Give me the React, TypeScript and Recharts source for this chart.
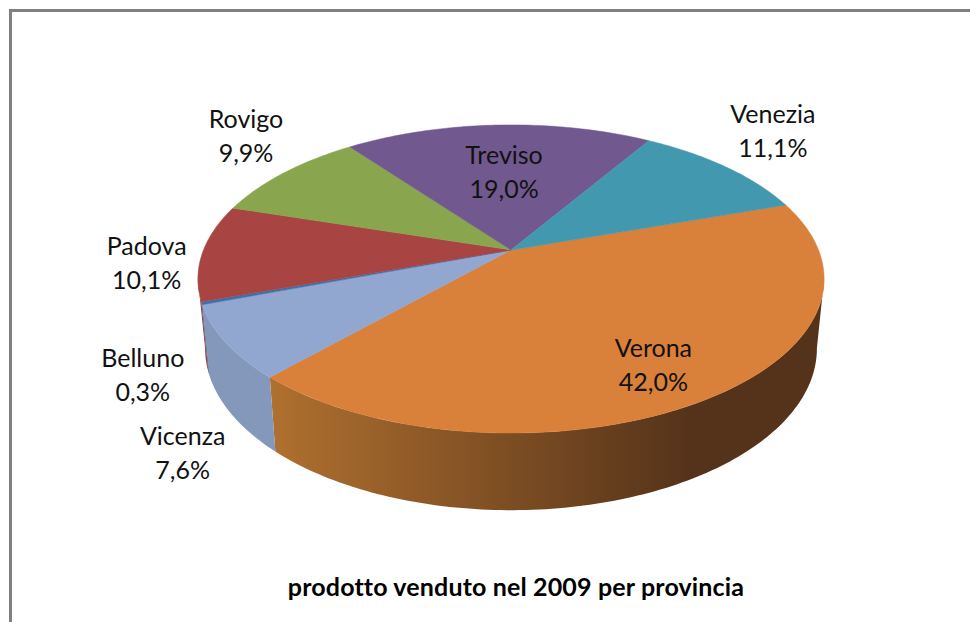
import React from 'react';
import { PieChart, Pie, Cell } from 'recharts';

const provinces = ['Verona', 'Vicenza', 'Belluno', 'Padova', 'Rovigo', 'Treviso', 'Venezia'];
const shares = [42.0, 7.6, 0.3, 10.1, 9.9, 19.0, 11.1];
const topColors = ['#d9803a', '#92a7cf', '#3f70a8', '#a84442', '#89a54e', '#71588f', '#4198af'];
const wallFrom = ['#b0702f', '#8398ba', '#2f5a8c', '#8f3a38', '#75904a', '#604b7c', '#37808f'];
const wallTo = ['#55331a', '#77899f', '#2f5a8c', '#8f3a38', '#75904a', '#604b7c', '#37808f'];
const labelNudge = [[-57, -33], [-43, 111], [-59, 72], [-56, 11], [-38, -37], [6, 47], [47, -36]];
const title = 'prodotto venduto nel 2009 per provincia';

const data = provinces.map((name, i) => ({ name, value: shares[i] }));

const TILT = 0.188;
const SCALE_X = 0.9825;
const SCALE_Y = 0.4748;
const DEPTH = 68;
const SHRINK_X = 0.977;
const SHRINK_Y = 1.05;
const SIL = 10.8; // angle of the silhouette (degrees from horizontal)

const RAD = Math.PI / 180;

function project(cx: number, cy: number, r: number, deg: number, rf = 1, lower = false) {
  const x = Math.cos(deg * RAD) * rf;
  const y = -Math.sin(deg * RAD) * rf;
  const d = 1 - TILT * y;
  let X = (r * SCALE_X * x) / d;
  let Y = (r * SCALE_Y * y) / d;
  if (lower) {
    X *= SHRINK_X;
    Y = Y * SHRINK_Y + DEPTH;
  }
  return [cx + X, cy + Y];
}

function arcPoints(cx: number, cy: number, r: number, a0: number, a1: number, lower = false) {
  const n = Math.max(2, Math.ceil(Math.abs(a1 - a0) / 1));
  const pts: number[][] = [];
  for (let i = 0; i <= n; i++) pts.push(project(cx, cy, r, a0 + ((a1 - a0) * i) / n, 1, lower));
  return pts;
}

const toPath = (pts: number[][]) =>
  pts.map((p, i) => `${i ? 'L' : 'M'}${p[0].toFixed(2)},${p[1].toFixed(2)}`).join(' ');

function norm(a: number) {
  // bring angle into (-270, 90]
  let v = a;
  while (v > 90) v -= 360;
  while (v <= -270) v += 360;
  return v;
}

function Slice3D(props: any) {
  const { cx, cy, outerRadius, startAngle, endAngle, index, fill } = props;
  const i = typeof index === 'number' ? index : provinces.indexOf(props.name);
  const top = [[cx, cy], ...arcPoints(cx, cy, outerRadius, startAngle, endAngle)];
  const hiA = Math.min(norm(startAngle), -SIL);
  const loA = Math.max(norm(startAngle) - (startAngle - endAngle), -180 + SIL);
  const hasWall = hiA > loA;
  const gid = `wall-${i}`;
  return (
    <g>
      {hasWall && (
        <>
          <defs>
            <linearGradient id={gid} gradientUnits="userSpaceOnUse" x1={270} x2={690} y1={0} y2={0}>
              <stop offset="0" stopColor={wallFrom[i]} />
              <stop offset="1" stopColor={wallTo[i]} />
            </linearGradient>
          </defs>
          <path
            d={toPath([
              ...arcPoints(cx, cy, outerRadius, hiA, loA),
              ...arcPoints(cx, cy, outerRadius, loA, hiA, true),
            ]) + ' Z'}
            fill={`url(#${gid})`}
          />
        </>
      )}
      <path d={toPath(top) + ' Z'} fill={fill} stroke={fill} strokeWidth={0.5} />
    </g>
  );
}

function SliceLabel(props: any) {
  const { cx, cy, outerRadius, midAngle, index } = props;
  const [px, py] = project(cx, cy, outerRadius, midAngle);
  const x = px + labelNudge[index][0];
  const y = py + labelNudge[index][1];
  return (
    <text x={x} y={y} textAnchor="middle" fontFamily="Lato" fontSize={25} fill="#111">
      <tspan x={x} dy={-8}>{provinces[index]}</tspan>
      <tspan x={x} dy={34}>{shares[index].toFixed(1).replace('.', ',')}%</tspan>
    </text>
  );
}

export default function App() {
  return (
    <div style={{ position: 'absolute', left: 0, top: 0, width: 970, height: 622, background: '#fff', overflow: 'hidden' }}>
      <div style={{ position: 'absolute', left: 9, top: 9, right: 0, bottom: 0, borderLeft: '3px solid #808080', borderTop: '3px solid #808080' }} />
      <div style={{ position: 'absolute', left: 0, top: 0 }}>
        <PieChart width={970} height={622} margin={{ top: 0, right: 0, bottom: 0, left: 0 }}>
          <Pie
            data={data}
            dataKey="value"
            nameKey="name"
            cx={511}
            cy={250}
            innerRadius={0}
            outerRadius={313}
            startAngle={18.7}
            endAngle={-341.3}
            paddingAngle={0}
            stroke="none"
            isAnimationActive={false}
            shape={Slice3D}
            label={SliceLabel}
            labelLine={false}
          >
            {data.map((d, i) => (
              <Cell key={d.name} fill={topColors[i]} />
            ))}
          </Pie>
          <text x={516} y={596} textAnchor="middle" fontFamily="Lato" fontWeight={700} fontSize={25} letterSpacing={0.15} fill="#000">
            {title}
          </text>
        </PieChart>
      </div>
    </div>
  );
}
